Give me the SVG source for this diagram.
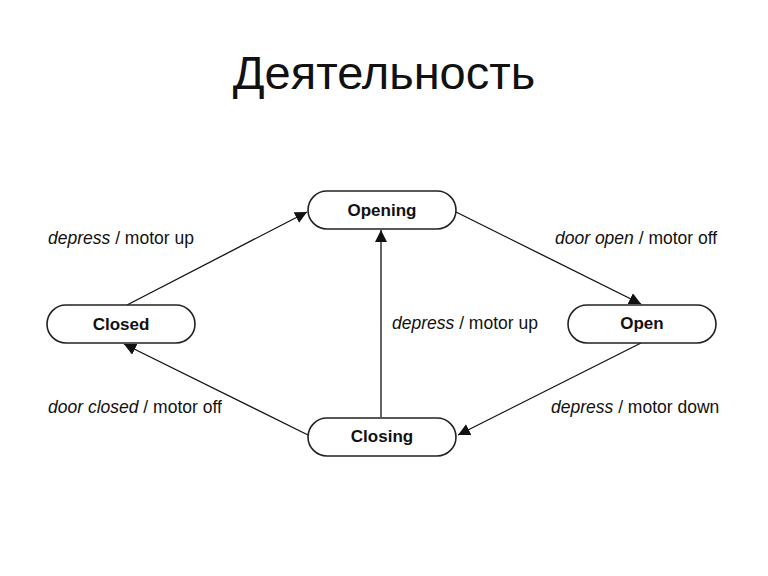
<svg xmlns="http://www.w3.org/2000/svg" width="768" height="576" viewBox="0 0 768 576">
<style>
.node rect{fill:#fff;stroke:#222;stroke-width:1.6}
.node text{font-family:"Liberation Sans",Arial,sans-serif;font-weight:bold;font-size:17px;fill:#111;text-anchor:middle}
.lbl{font-family:"Liberation Sans",Arial,sans-serif;font-size:17.5px;fill:#111}
.lbl .i{font-style:italic}
.edge{stroke:#111;stroke-width:1.3;fill:none;marker-end:url(#ah)}
.title{font-family:"Liberation Sans",Arial,sans-serif;font-size:47px;fill:#111;text-anchor:middle}
</style>
<defs>
<marker id="ah" viewBox="0 0 10 10" refX="10" refY="5" markerWidth="12" markerHeight="12" markerUnits="userSpaceOnUse" orient="auto">
<path d="M0,0 L10,5 L0,10 z" fill="#111"/>
</marker>
</defs>
<rect width="768" height="576" fill="#fff"/>
<text class="title" x="384" y="89">Деятельность</text>
<g id="connectors">
<line class="edge" x1="127" y1="305" x2="307" y2="212"/>
<line class="edge" x1="456" y1="212" x2="641" y2="304"/>
<line class="edge" x1="641" y1="343" x2="458" y2="435"/>
<line class="edge" x1="308" y1="435" x2="124" y2="344"/>
<line class="edge" x1="381" y1="417" x2="381" y2="230"/>
</g>
<g id="labels">
<text class="lbl" x="48" y="244"><tspan class="i">depress</tspan> / motor up</text>
<text class="lbl" x="555" y="244"><tspan class="i">door open</tspan> / motor off</text>
<text class="lbl" x="392" y="329"><tspan class="i">depress</tspan> / motor up</text>
<text class="lbl" x="48" y="413"><tspan class="i">door closed</tspan> / motor off</text>
<text class="lbl" x="551" y="413"><tspan class="i">depress</tspan> / motor down</text>
</g>
<g id="opening" class="node"><rect x="308" y="191" width="148" height="38" rx="19"/><text x="382" y="216">Opening</text></g>
<g id="closed" class="node"><rect x="47" y="305" width="148" height="38" rx="19"/><text x="121" y="330">Closed</text></g>
<g id="open" class="node"><rect x="568" y="305" width="148" height="38" rx="19"/><text x="642" y="329">Open</text></g>
<g id="closing" class="node"><rect x="308" y="418" width="148" height="38" rx="19"/><text x="382" y="442">Closing</text></g>
</svg>
